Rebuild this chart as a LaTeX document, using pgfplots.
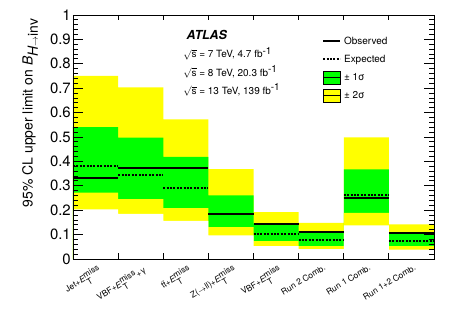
\documentclass[border=0pt]{standalone}
\usepackage{fontspec}
\setmainfont{TeX Gyre Heros}
\usepackage{pgfplots}
\usepackage{pgfplotstable}
\pgfplotsset{compat=1.18}
\definecolor{rootgreen}{RGB}{0,255,0}
\definecolor{rootyellow}{RGB}{255,255,0}

\pgfplotstableread{
x y2t y1t obs exp y1b y2b
0 0.750 0.540 0.330 0.382 0.272 0.203
1 0.703 0.497 0.373 0.345 0.245 0.185
2 0.572 0.419 0.375 0.293 0.209 0.156
3 0.368 0.261 0.185 0.185 0.131 0.097
4 0.192 0.145 0.142 0.101 0.073 0.053
5 0.148 0.114 0.111 0.077 0.053 0.040
6 0.498 0.367 0.250 0.264 0.189 0.138
7 0.142 0.108 0.105 0.074 0.053 0.038
8 0.142 0.108 0.105 0.074 0.053 0.038
}\data

\newcommand{\met}{\textit{E}$_{\textrm{T}}^{\textrm{miss}}$}

\begin{document}
\begin{tikzpicture}
\begin{axis}[
  name=ax,
  scale only axis, width=361bp, height=244bp,
  xmin=0, xmax=8, ymin=0, ymax=1,
  axis on top,
  axis line style={line width=0.9bp},
  every tick/.style={black, line width=0.9bp},
  major tick length=10bp, minor tick length=5.5bp,
  ytick={0,0.1,...,1.01},
  minor y tick num=4,
  /pgf/number format/assume math mode=true,
  yticklabel style={font=\fontsize{15}{15}\selectfont, inner sep=2bp},
  xtick={0.5,1.5,...,7.5},
  major x tick style={draw=none},
  minor xtick={1,...,7},
  xticklabels={Jet+\met, VBF+\met+γ, t$\bar{\textrm{t}}$+\met, Z($\rightarrow$ll)+\met, VBF+\met, Run 2 Comb., Run 1 Comb., Run 1+2 Comb.},
  xticklabel style={rotate=31, anchor=north east, font=\fontsize{8.5}{9}\selectfont, inner sep=1bp, yshift=-4bp},
  ylabel={95\% CL upper limit on \textit{B}$_{\textit{H}\rightarrow\textrm{inv}}$},
  ylabel style={at={(axis description cs:-0.119,1)}, anchor=east, font=\fontsize{14}{14}\selectfont},
  legend cell align=left,
  legend style={draw=none, fill=none, at={(axis cs:5.45,0.925)}, anchor=north west,
    font=\fontsize{10}{12}\selectfont, row sep=6bp,
    /tikz/every odd column/.style={column sep=2bp},
    nodes={inner sep=1bp, text height=8bp, text depth=2bp}},
]
\addplot[const plot mark left, fill=rootyellow, draw=none, forget plot] table[x=x,y=y2t]{\data} \closedcycle;
\addplot[const plot mark left, fill=rootgreen, draw=none, forget plot] table[x=x,y=y1t]{\data} \closedcycle;
\addplot[const plot mark left, fill=rootyellow, draw=none, forget plot] table[x=x,y=y1b]{\data} \closedcycle;
\addplot[const plot mark left, fill=white, draw=none, forget plot] table[x=x,y=y2b]{\data} \closedcycle;
\addplot[jump mark left, black, line width=2bp,
  legend image code/.code={\draw[black, line width=2bp] (0bp,0bp)--(17bp,0bp);}] table[x=x,y=obs]{\data};
\addlegendentry{Observed}
\addplot[jump mark left, black, line width=2bp, dash pattern=on 2bp off 1.4bp,
  legend image code/.code={\draw[black, line width=2bp, dash pattern=on 2bp off 1.4bp] (0bp,0bp)--(17bp,0bp);}] table[x=x,y=exp]{\data};
\addlegendentry{Expected}
\addlegendimage{legend image code/.code={\draw[overlay, fill=rootgreen, draw=black, line width=0.8bp] (0bp,-6.5bp) rectangle (17bp,6.5bp); \path (0bp,0bp)--(17bp,0bp);}}
\addlegendentry{± 1σ}
\addlegendimage{legend image code/.code={\draw[overlay, fill=rootyellow, draw=black, line width=0.8bp] (0bp,-6.5bp) rectangle (17bp,6.5bp); \path (0bp,0bp)--(17bp,0bp);}}
\addlegendentry{± 2σ}

\node[anchor=base west, font=\bfseries\itshape\fontsize{12.5}{13}\selectfont] at (axis cs:2.44,0.901) {ATLAS};
\node[anchor=base west, font=\fontsize{10}{12}\selectfont, inner sep=0pt] at (axis cs:2.44,0.824) {$\sqrt{\textrm{s}}$ = 7 TeV, 4.7 fb$^{\textrm{-1}}$};
\node[anchor=base west, font=\fontsize{10}{12}\selectfont, inner sep=0pt] at (axis cs:2.44,0.748) {$\sqrt{\textrm{s}}$ = 8 TeV, 20.3 fb$^{\textrm{-1}}$};
\node[anchor=base west, font=\fontsize{10}{12}\selectfont, inner sep=0pt] at (axis cs:2.44,0.674) {$\sqrt{\textrm{s}}$ = 13 TeV, 139 fb$^{\textrm{-1}}$};
\end{axis}
\pgfresetboundingbox
\path[use as bounding box] ([shift={(-73bp,-50bp)}]ax.south west) rectangle ([shift={(23bp,15bp)}]ax.north east);
\end{tikzpicture}
\end{document}
